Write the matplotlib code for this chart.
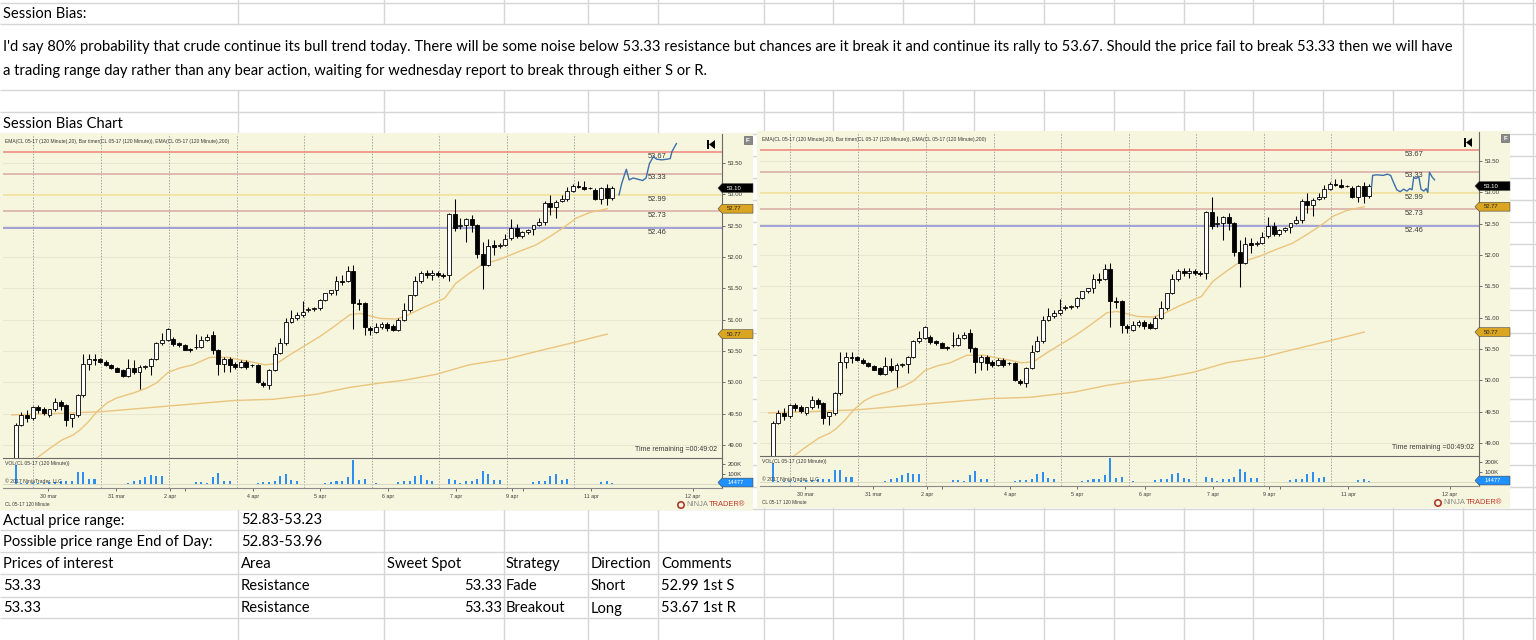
import matplotlib
matplotlib.use('Agg')
import matplotlib.pyplot as plt
from matplotlib.patches import Rectangle, Polygon, Circle
from matplotlib.transforms import blended_transform_factory

W, H, DPI = 1536, 640, 100
plt.rcParams['font.family'] = ['Liberation Sans', 'DejaVu Sans']

# ---------------- data ----------------
bar_open = [48.70, 49.32, 49.48, 49.43, 49.60, 49.58, 49.48, 49.57, 49.69, 49.64,
            49.43, 49.48, 49.80, 50.30, 50.37, 50.37, 50.33, 50.28, 50.23, 50.19,
            50.10, 50.23, 50.17, 50.25, 50.26, 50.37, 50.62, 50.68, 50.69, 50.62,
            50.59, 50.53, 50.56, 50.57, 50.68, 50.76, 50.52, 50.29, 50.38, 50.30,
            50.25, 50.33, 50.27, 50.28, 49.99, 49.96, 50.20, 50.47, 50.62, 50.97,
            51.02, 51.07, 51.16, 51.17, 51.18, 51.31, 51.42, 51.47, 51.61, 51.62,
            51.77, 51.27, 51.26, 50.86, 50.81, 50.89, 50.93, 50.90, 50.84, 51.00,
            51.16, 51.39, 51.62, 51.74, 51.72, 51.74, 51.71, 51.71, 52.69, 52.50,
            52.51, 52.60, 52.51, 52.05, 51.87, 52.19, 52.17, 52.19, 52.30, 52.46,
            52.34, 52.40, 52.44, 52.51, 52.56, 52.86, 52.79, 52.89, 52.92, 53.06,
            53.14, 53.12, 53.10, 53.07, 52.93, 53.10, 52.94]
bar_high = [49.35, 49.53, 49.56, 49.62, 49.64, 49.61, 49.58, 49.75, 49.72, 49.65,
            49.50, 49.81, 50.46, 50.46, 50.46, 50.39, 50.35, 50.30, 50.25, 50.21,
            50.37, 50.36, 50.27, 50.28, 50.39, 50.64, 50.78, 50.86, 50.73, 50.64,
            50.61, 50.55, 50.77, 50.74, 50.77, 50.82, 50.54, 50.40, 50.40, 50.33,
            50.35, 50.36, 50.30, 50.30, 50.02, 50.21, 50.57, 50.70, 51.02, 51.16,
            51.13, 51.30, 51.20, 51.20, 51.33, 51.43, 51.48, 51.70, 51.72, 51.85,
            51.87, 51.33, 51.28, 50.90, 50.95, 50.97, 50.96, 50.93, 51.02, 51.27,
            51.40, 51.69, 51.77, 51.80, 51.80, 51.78, 51.74, 52.71, 52.93, 52.62,
            52.62, 52.67, 52.53, 52.24, 52.28, 52.27, 52.22, 52.37, 52.60, 52.52,
            52.42, 52.45, 52.50, 52.62, 52.89, 52.99, 52.91, 52.99, 53.12, 53.17,
            53.22, 53.22, 53.12, 53.10, 53.12, 53.16, 53.13]
bar_low = [48.60, 49.30, 49.37, 49.40, 49.51, 49.48, 49.45, 49.55, 49.56, 49.30,
           49.28, 49.45, 49.77, 50.20, 50.28, 50.31, 50.26, 50.21, 50.16, 50.09,
           50.08, 50.14, 49.90, 50.22, 50.12, 50.35, 50.60, 50.66, 50.58, 50.57,
           50.51, 50.49, 50.53, 50.55, 50.66, 50.46, 50.12, 50.17, 50.17, 50.22,
           50.23, 50.22, 50.24, 49.99, 49.93, 49.89, 50.18, 50.45, 50.60, 50.95,
           51.00, 51.05, 51.13, 51.14, 51.16, 51.29, 51.40, 51.40, 51.56, 51.60,
           50.85, 51.15, 50.76, 50.76, 50.78, 50.85, 50.82, 50.82, 50.82, 50.98,
           51.12, 51.37, 51.58, 51.66, 51.64, 51.68, 51.66, 51.61, 52.42, 52.45,
           52.24, 52.40, 51.98, 51.49, 51.85, 52.03, 52.14, 52.17, 52.27, 52.31,
           52.31, 52.36, 52.35, 52.49, 52.51, 52.67, 52.63, 52.87, 52.90, 53.04,
           53.10, 53.07, 53.08, 52.91, 52.85, 52.83, 52.91]
bar_close = [49.32, 49.48, 49.43, 49.60, 49.56, 49.51, 49.57, 49.69, 49.62, 49.40,
             49.49, 49.80, 50.30, 50.37, 50.36, 50.33, 50.28, 50.23, 50.17, 50.10,
             50.23, 50.17, 50.25, 50.26, 50.37, 50.62, 50.67, 50.85, 50.61, 50.59,
             50.52, 50.51, 50.57, 50.67, 50.73, 50.52, 50.29, 50.38, 50.28, 50.25,
             50.33, 50.25, 50.28, 50.01, 49.96, 50.20, 50.46, 50.62, 50.97, 51.02,
             51.07, 51.13, 51.17, 51.18, 51.31, 51.42, 51.47, 51.62, 51.60, 51.77,
             51.27, 51.25, 50.89, 50.83, 50.89, 50.93, 50.86, 50.84, 51.00, 51.16,
             51.39, 51.62, 51.74, 51.72, 51.74, 51.71, 51.69, 52.69, 52.46, 52.51,
             52.60, 52.51, 52.05, 51.87, 52.18, 52.16, 52.19, 52.28, 52.46, 52.34,
             52.40, 52.43, 52.51, 52.56, 52.86, 52.80, 52.88, 52.92, 53.06, 53.14,
             53.11, 53.09, 53.10, 52.93, 53.10, 52.94, 53.10]
volume_k = [195, 10, 10, 10, 10, 10, 17, 17, 27, 33, 27, 117, 123, 50, 50, 5, 5, 5, 5, 5,
            7, 27, 43, 67, 93, 77, 77, 5, 5, 5, 5, 5, 17, 17, 15, 67, 110, 33, 33, 5,
            5, 5, 5, 7, 17, 20, 33, 77, 103, 43, 27, 5, 5, 5, 5, 7, 20, 33, 27, 67,
            243, 43, 53, 5, 10, 5, 5, 5, 20, 33, 33, 77, 93, 43, 33, 5, 5, 50, 43, 10,
            33, 33, 50, 133, 100, 43, 43, 5, 5, 5, 5, 5, 20, 33, 33, 83, 103, 43, 50, 5,
            5, 5, 5, 5, 20, 30, 14.477]

ema20_bar = [4.7, 7.1, 9.2, 11.2, 12.4, 13.9, 15.4, 17.2, 18.9, 21.9, 24.3, 26.0, 28.1,
             30.2, 32.5, 35.5, 38.5, 40.8, 43.2, 45.3, 47.4, 49.7, 52.1, 55.0, 57.4,
             60.4, 62.2, 64.0, 65.8, 68.6, 70.4, 73.3, 76.4, 77.2, 79.2, 81.6, 83.7,
             85.1, 87.5, 90.5, 93.4, 95.8, 98.2, 100.6, 103.0, 106.1]
ema20_val = [48.79, 48.95, 49.08, 49.16, 49.24, 49.37, 49.53, 49.67, 49.75, 49.83, 49.91,
             49.99, 50.16, 50.23, 50.28, 50.40, 50.40, 50.36, 50.32, 50.28, 50.30, 50.44,
             50.57, 50.73, 50.88, 51.08, 51.10, 51.06, 51.02, 51.01, 51.06, 51.19, 51.31,
             51.34, 51.58, 51.74, 51.87, 51.91, 51.98, 52.09, 52.19, 52.32, 52.46, 52.62,
             52.71, 52.77]
ema200_bar = [0.3, 7.1, 16.0, 27.9, 39.7, 46.8, 54.4, 60.4, 65.8, 69.8, 75.8, 81.6,
              88.1, 93.4, 99.9, 106.1]
ema200_val = [49.48, 49.50, 49.53, 49.62, 49.71, 49.73, 49.81, 49.92, 49.99, 50.03,
              50.13, 50.28, 50.37, 50.49, 50.63, 50.77]

proj_left_bar = [108.2, 108.7, 109.5, 110.0, 110.7, 111.6, 112.4, 113.0, 113.6, 114.3,
                 114.9, 115.8, 116.7, 117.3, 117.6, 118.4]
proj_left_val = [52.99, 53.18, 53.40, 53.23, 53.26, 53.24, 53.22, 53.26, 53.49, 53.60,
                 53.56, 53.55, 53.56, 53.57, 53.68, 53.81]
proj_right_bar = [107.4, 107.6, 108.3, 109.5, 110.2, 110.8, 111.3, 111.9, 112.5, 113.1,
                  113.7, 114.2, 114.6, 114.9, 115.3, 115.8, 116.2, 116.7, 117.1, 117.4,
                  117.7, 118.2, 118.6]
proj_right_val = [53.08, 53.27, 53.28, 53.27, 53.29, 53.27, 53.16, 53.04, 53.01, 53.05,
                  53.02, 53.06, 53.04, 53.24, 53.22, 53.25, 53.05, 53.02, 53.06, 53.00,
                  53.32, 53.24, 53.20]

level_prices = [53.67, 53.33, 52.99, 52.73, 52.46]
level_colors = ['#F2837B', '#D8A8A4', '#F3E29A', '#D8A8A4', '#8A8ADA']

price_ticks = [49.0, 49.5, 50.0, 50.5, 51.0, 51.5, 52.0, 52.5, 53.0, 53.5]
vol_ticks = [100, 200]
session_starts = [4.1, 16.15, 28.2, 40.3, 52.2, 64.3, 76.2, 88.3, 100.2]
date_tick_pos = [6.8, 18.9, 28.5, 31.1, 43.2, 55.1, 67.2, 79.3, 89.2, 91.2, 103.3, 121.3]
date_tick_labels = ['30 mar', '31 mar', '2 apr', '', '4 apr', '5 apr', '6 apr', '7 apr',
                    '9 apr', '', '11 apr', '12 apr']

title_text = 'Session Bias:'
bias_line1 = ("I'd say 80% probability that crude continue its bull trend today. There will be "
              "some noise below 53.33 resistance but chances are it break it and continue its "
              "rally to 53.67. Should the price fail to break 53.33 then we will have")
bias_line2 = ("a trading range day rather than any bear action, waiting for wednesday report "
              "to break through either S or R.")
chart_title = 'Session Bias Chart'
summary_labels = ['Actual price range:', 'Possible price range End of Day:']
summary_values = ['52.83-53.23', '52.83-53.96']
table_header = ['Prices of interest', 'Area', 'Sweet Spot', 'Strategy', 'Direction', 'Comments']
table_rows = [['53.33', 'Resistance', '53.33', 'Fade', 'Short', '52.99 1st S'],
              ['53.33', 'Resistance', '53.33', 'Breakout', 'Long', '53.67 1st R']]

# ---------------- layout helpers ----------------
BEIGE = '#F6F6DE'
GRID = '#D6D6D6'


def px2fig(x0, y0, x1, y1):
    return [x0 / W, 1 - y1 / H, (x1 - x0) / W, (y1 - y0) / H]


fig = plt.figure(figsize=(W / DPI, H / DPI), dpi=DPI)
fig.patch.set_facecolor('white')
sheet = fig.add_axes([0, 0, 1, 1])
sheet.set_xlim(0, W)
sheet.set_ylim(H, 0)
sheet.axis('off')

# spreadsheet grid
row_lines = [3, 24, 90, 112] + [134 + k * 22.06 for k in range(18)] + [530, 552, 574, 597, 618]
col_lines = [238, 384, 504, 588, 658, 764, 833, 903, 974, 1044, 1114, 1184, 1253, 1323,
             1393, 1463, 1533]
for y in row_lines:
    sheet.plot([0, W], [y, y], color=GRID, lw=1, zorder=1, solid_capstyle='butt')
for x in col_lines:
    sheet.plot([x, x], [0, 24], color=GRID, lw=1, zorder=1)
    sheet.plot([x, x], [90, H], color=GRID, lw=1, zorder=1)
    if x >= 1463:
        sheet.plot([x, x], [24, 90], color=GRID, lw=1, zorder=1)

# sheet text (fit the long line to its cell width)
SFONT = ['Lato', 'DejaVu Sans']
t1 = sheet.text(3, 47, bias_line1, fontsize=10, family=SFONT, va='center', ha='left', color='black')
renderer = fig.canvas.get_renderer()
w = t1.get_window_extent(renderer).width
fs = 10 * 1446 / w
t1.set_fontsize(fs)
sheet.text(3, 71, bias_line2, fontsize=fs, family=SFONT, va='center', ha='left')
sheet.text(3, 14.5, title_text, fontsize=fs, family=SFONT, va='center', ha='left')
sheet.text(3, 124.5, chart_title, fontsize=fs, family=SFONT, va='center', ha='left')
for i, (lab, val) in enumerate(zip(summary_labels, summary_values)):
    yc = [520.5, 542][i]
    sheet.text(3, yc, lab, fontsize=fs, family=SFONT, va='center', ha='left')
    sheet.text(241, yc, val, fontsize=fs, family=SFONT, va='center', ha='left')
col_x = [3, 241, 387, 506, 591, 661]
for j, h in enumerate(table_header):
    sheet.text(col_x[j], 564, h, fontsize=fs, family=SFONT, va='center', ha='left')
for i, row in enumerate(table_rows):
    yc = [586.5, 608.5][i]
    for j, v in enumerate(row):
        if j == 2:
            sheet.text(502, yc, v, fontsize=fs, family=SFONT, va='center', ha='right')
        else:
            sheet.text(col_x[j], yc, v, fontsize=fs, family=SFONT, va='center', ha='left')

YMIN, YMAX = 48.793, 53.9625
XMIN, XMAX = -1.26, 126.5
HDR = ('EMA(CL 05-17 (120 Minute),20), Bar timer(CL 05-17 (120 Minute)), '
       'EMA(CL 05-17 (120 Minute),200)')
TXT = '#383838'


def badge(ax, yval, text, fc, tc, hh, fsz=4.2):
    tr = blended_transform_factory(ax.transAxes, ax.transData)
    x_tip, x_l, x_r = 0.9944, 1.0, 1.0431
    poly = Polygon([(x_tip, yval), (x_l, yval + hh), (x_r, yval + hh), (x_r, yval - hh),
                    (x_l, yval - hh)], closed=True, transform=tr, fc=fc, ec='#444',
                   lw=0.4, clip_on=False, zorder=20)
    ax.add_patch(poly)
    ax.text(1.007, yval, text, transform=tr, fontsize=fsz, color=tc, va='center',
            ha='left', clip_on=False, zorder=21)


def draw_chart(dx, dy, pb, pv):
    # panel
    sheet.add_patch(Rectangle((dx, 133 + dy), 753, 377, fc=BEIGE, ec='none', zorder=5))
    # F box and skip icon
    sheet.add_patch(Rectangle((dx + 744, 136 + dy), 8, 8, fc='#8A8A8A', ec='#666', lw=0.5, zorder=6))
    sheet.text(dx + 748, 140.3 + dy, 'F', fontsize=4.5, color='white', ha='center', va='center',
               zorder=7, fontweight='bold')
    sheet.add_patch(Rectangle((dx + 707, 140 + dy), 2.2, 9, fc='black', ec='none', zorder=6))
    sheet.add_patch(Polygon([(dx + 715, 140 + dy), (dx + 715, 149 + dy), (dx + 709, 144.5 + dy)],
                            closed=True, fc='black', ec='none', zorder=6))
    # footer
    sheet.text(dx + 5, 505 + dy, 'CL 05-17 120 Minute', fontsize=3.4, color=TXT,
               ha='left', va='center', zorder=7)
    sheet.add_patch(Circle((dx + 681, 505 + dy), 3.2, fc='none', ec='#B03A2E', lw=1.2, zorder=7))
    sheet.text(dx + 686, 505 + dy, 'NINJA', fontsize=5.4, color='#8A8A8A', ha='left',
               va='center', zorder=7)
    sheet.text(dx + 709, 505 + dy, 'TRADER\u00ae', fontsize=5.4, color='#C0392B', ha='left',
               va='center', zorder=7)

    axp = fig.add_axes(px2fig(dx + 3, 134 + dy, dx + 722, 458 + dy))
    axp.set_facecolor('none')
    axp.set_xlim(XMIN, XMAX)
    axp.set_ylim(YMIN, YMAX)
    for p in price_ticks:
        axp.axhline(p, color='#E8E8D2', lw=0.8, zorder=0)
    for s in session_starts:
        axp.axvline(s, color='#A4A4A4', lw=0.7, ls=(0, (1.5, 1.5)), zorder=1)
    for p, c in zip(level_prices, level_colors):
        axp.axhline(p, color=c, lw=1.1, zorder=2)
        axp.text(113.3, p - 0.068, f'{p:.2f}', fontsize=5.4, color=TXT, va='center',
                 ha='left', zorder=3)
    axp.plot(ema200_bar, ema200_val, color='#EBC47E', lw=1.0, zorder=3)
    axp.plot(ema20_bar, ema20_val, color='#EBC47E', lw=1.0, zorder=3)
    for i, (o, h, l, c) in enumerate(zip(bar_open, bar_high, bar_low, bar_close)):
        x = i + 1
        axp.vlines(x, l, h, color='black', lw=0.75, zorder=4)
        lo, hi = min(o, c), max(o, c)
        fc = 'white' if c >= o else 'black'
        axp.add_patch(Rectangle((x - 0.35, lo), 0.70, max(hi - lo, 0.004), fc=fc, ec='black',
                                lw=0.6, zorder=5))
    axp.plot(pb, pv, color='#3C6FA8', lw=1.0, zorder=6)
    axp.text(0.003, 0.985, HDR, transform=axp.transAxes, fontsize=3.6, color=TXT,
             va='top', ha='left')
    axp.text(0.993, 0.026, 'Time remaining =00:49:02', transform=axp.transAxes, fontsize=5.0,
             color=TXT, va='center', ha='right')
    axp.yaxis.tick_right()
    axp.set_yticks(price_ticks)
    axp.set_yticklabels([f'{p:.2f}' for p in price_ticks])
    axp.tick_params(axis='y', labelsize=4.3, length=2.5, width=0.5, colors=TXT, pad=1.5)
    axp.set_xticks([])
    for sp in ['left', 'top']:
        axp.spines[sp].set_visible(False)
    axp.spines['right'].set_color('#6A6A6A')
    axp.spines['right'].set_linewidth(0.8)
    axp.spines['bottom'].set_color('#6A6A6A')
    axp.spines['bottom'].set_linewidth(0.8)
    hh = 4.4 / 62.7
    badge(axp, bar_close[-1], f'{bar_close[-1]:.2f}', 'black', 'white', hh)
    badge(axp, ema20_val[-1], f'{ema20_val[-1]:.2f}', '#DAA520', '#222', hh)
    badge(axp, ema200_val[-1], f'{ema200_val[-1]:.2f}', '#DAA520', '#222', hh)

    axv = fig.add_axes(px2fig(dx + 3, 458 + dy, dx + 722, 488 + dy))
    axv.set_facecolor('none')
    axv.set_xlim(XMIN, XMAX)
    axv.set_ylim(-40, 260)
    for s in session_starts:
        axv.axvline(s, color='#A4A4A4', lw=0.7, ls=(0, (1.5, 1.5)), zorder=1)
    axv.bar(range(1, len(volume_k) + 1), volume_k, width=0.36, color='#2E8FF0', zorder=3)
    axv.axhline(0, color='#CFCFB8', lw=0.5, zorder=2)
    axv.text(0.003, 0.83, 'VOL(CL 05-17 (120 Minute))', transform=axv.transAxes, fontsize=3.7,
             color=TXT, va='center', ha='left')
    axv.text(0.003, 0.23, '\u00a9 2017 NinjaTrader, LLC', transform=axv.transAxes, fontsize=3.7,
             color=TXT, va='center', ha='left')
    axv.yaxis.tick_right()
    axv.set_yticks(vol_ticks)
    axv.set_yticklabels([f'{v}K' for v in vol_ticks])
    axv.tick_params(axis='y', labelsize=4.3, length=2.5, width=0.5, colors=TXT, pad=1.5)
    axv.set_xticks(date_tick_pos)
    axv.set_xticklabels(date_tick_labels)
    axv.tick_params(axis='x', labelsize=3.8, length=2, width=0.5, colors=TXT, pad=2.5)
    for sp in ['left', 'top']:
        axv.spines[sp].set_visible(False)
    axv.spines['right'].set_color('#6A6A6A')
    axv.spines['right'].set_linewidth(0.8)
    axv.spines['bottom'].set_color('#8A8A8A')
    axv.spines['bottom'].set_linewidth(0.8)
    badge(axv, volume_k[-1], f'{volume_k[-1] * 1000:.0f}', '#1E90FF', 'white', 44)


draw_chart(0, 0, proj_left_bar, proj_left_val)
draw_chart(757, -2, proj_right_bar, proj_right_val)

fig.savefig('out.png', dpi=DPI)
